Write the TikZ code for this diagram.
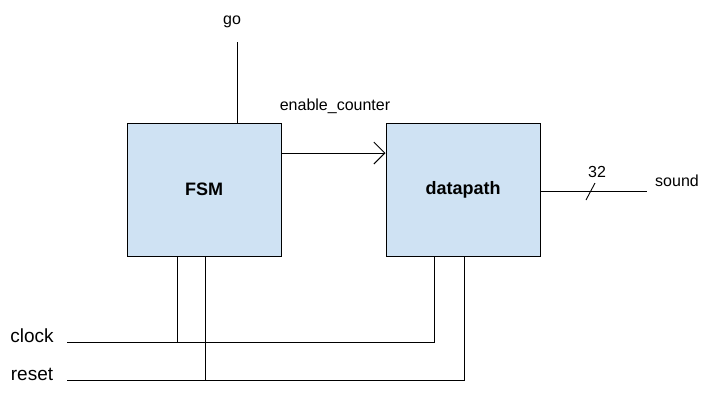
\documentclass[tikz,border=0pt]{standalone}
\usepackage{fontspec}
\setmainfont{Liberation Sans}
\usetikzlibrary{arrows.meta}
\definecolor{boxblue}{HTML}{CFE2F3}

\begin{document}
\begin{tikzpicture}[x=1pt,y=-1pt,
	every node/.style={inner sep=0pt},
	block/.style={draw,fill=boxblue,line width=1pt,minimum width=154pt,minimum height=133pt,
		font=\bfseries\fontsize{18}{20}\selectfont},
	sig/.style={font=\fontsize{16}{18}\selectfont},
	pin/.style={font=\fontsize{19}{21}\selectfont},
	wire/.style={line width=0.9pt}]
\useasboundingbox (0,0) rectangle (709,416);
% the two blocks
\node[block] (fsm) at (204,189.5) {FSM};
\node[block] (dp) at (463,189.5) {datapath};
% go input
\node[sig] (go) at (232,22) {go};
\coordinate (gotop) at (237,42);
\draw[wire] (gotop) -- (gotop |- fsm.north);
% enable_counter
\node[sig] (en) at (335,106) {enable\_counter};
\coordinate (enout) at (fsm.east |- 0,153);
\draw[wire,-{Straight Barb[length=11pt,width=22pt]}] (enout) -- (dp.west |- enout);
% sound output, 32 bits
\coordinate (sndend) at (647,191);
\draw[wire] (dp.east |- sndend) -- (sndend);
\draw[wire] (586,200) -- (595,183);
\node[sig] (width) at (597,172) {32};
\node[sig] (snd) at (677,181) {sound};
% clock
\node[pin] (clk) at (32,336) {clock};
\coordinate (clkin) at (67,342);
\coordinate (dpclk) at ([xshift=-29pt]dp.south);
\coordinate (fsmclk) at ([xshift=-27pt]fsm.south);
\draw[wire] (clkin) -| (dpclk);
\draw[wire] (fsmclk) -- (fsmclk |- clkin);
% reset
\node[pin] (rst) at (32,374) {reset};
\coordinate (rstin) at (67,380);
\coordinate (dprst) at ([xshift=1pt]dp.south);
\coordinate (fsmrst) at ([xshift=1pt]fsm.south);
\draw[wire] (rstin) -| (dprst);
\draw[wire] (fsmrst) -- (fsmrst |- rstin);
\end{tikzpicture}
\end{document}
